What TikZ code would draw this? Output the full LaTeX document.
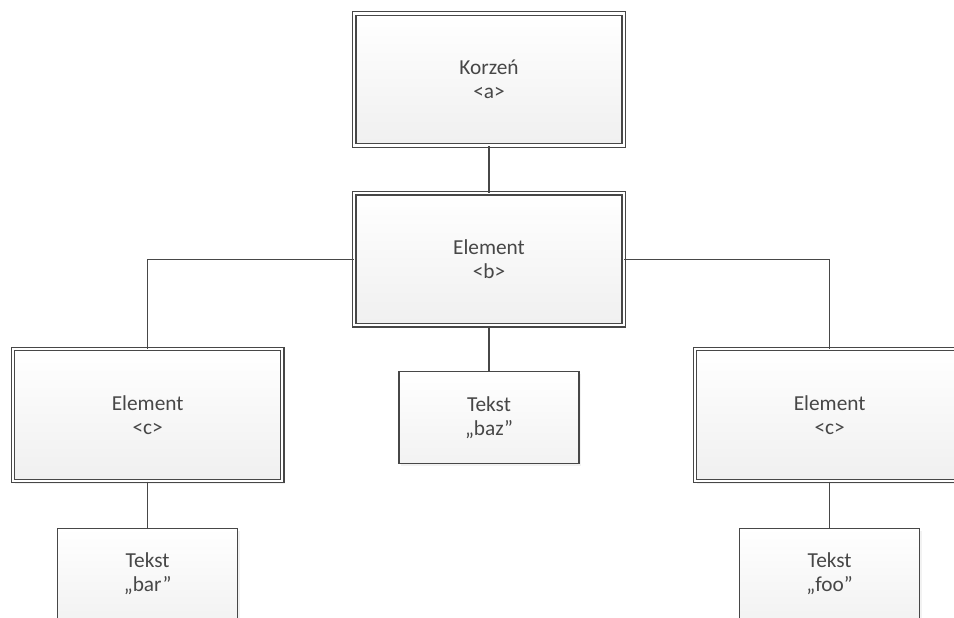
\documentclass[tikz,border=0pt]{standalone}
\usepackage{fontspec}
\setmainfont{Carlito}
\usetikzlibrary{positioning,shadows}

\begin{document}
\begin{tikzpicture}[x=0.75pt, y=-0.75pt,
          elem/.style={rectangle, draw=black!72, double=white, double distance=1.6pt,
              line width=0.85pt, top color=white, bottom color=black!6,
              drop shadow={opacity=0.1, shadow xshift=1.8pt, shadow yshift=-1.8pt},
              minimum width=202pt, minimum height=99pt, inner sep=0pt,
              text=black!72, font=\fontsize{16}{18}\selectfont, align=center},
          txt/.style={rectangle, draw=black!72, line width=0.9pt,
              top color=white, bottom color=black!5,
              drop shadow={opacity=0.1, shadow xshift=1.8pt, shadow yshift=-1.8pt},
              minimum width=135pt, minimum height=68.5pt, inner sep=0pt,
              text=black!72, font=\fontsize{16}{18}\selectfont, align=center},
          conn/.style={draw=black!72, line width=0.85pt}
        ]
        \useasboundingbox (0,0) rectangle (954,618);
        \node[elem] (root) at (489,79.5) {Korzeń\\<a>};
        \node[elem, below=35pt of root] (b) {Element\\<b>};
        \node[elem, below=17pt of b, xshift=-256pt] (cl) {Element\\<c>};
        \node[elem, below=17pt of b, xshift=255.5pt] (cr) {Element\\<c>};
        \node[txt, below=34pt of b] (baz) {Tekst\\„baz”};
        \node[txt, below=34.5pt of cl] (bar) {Tekst\\„bar”};
        \node[txt, below=34.5pt of cr] (foo) {Tekst\\„foo”};
        \draw[conn] (root) -- (b);
        \draw[conn] (b.west) -| (cl.north);
        \draw[conn] (b.east) -| (cr.north);
        \draw[conn] (b) -- (baz);
        \draw[conn] (cl) -- (bar);
        \draw[conn] (cr) -- (foo);
      \end{tikzpicture}
\end{document}
